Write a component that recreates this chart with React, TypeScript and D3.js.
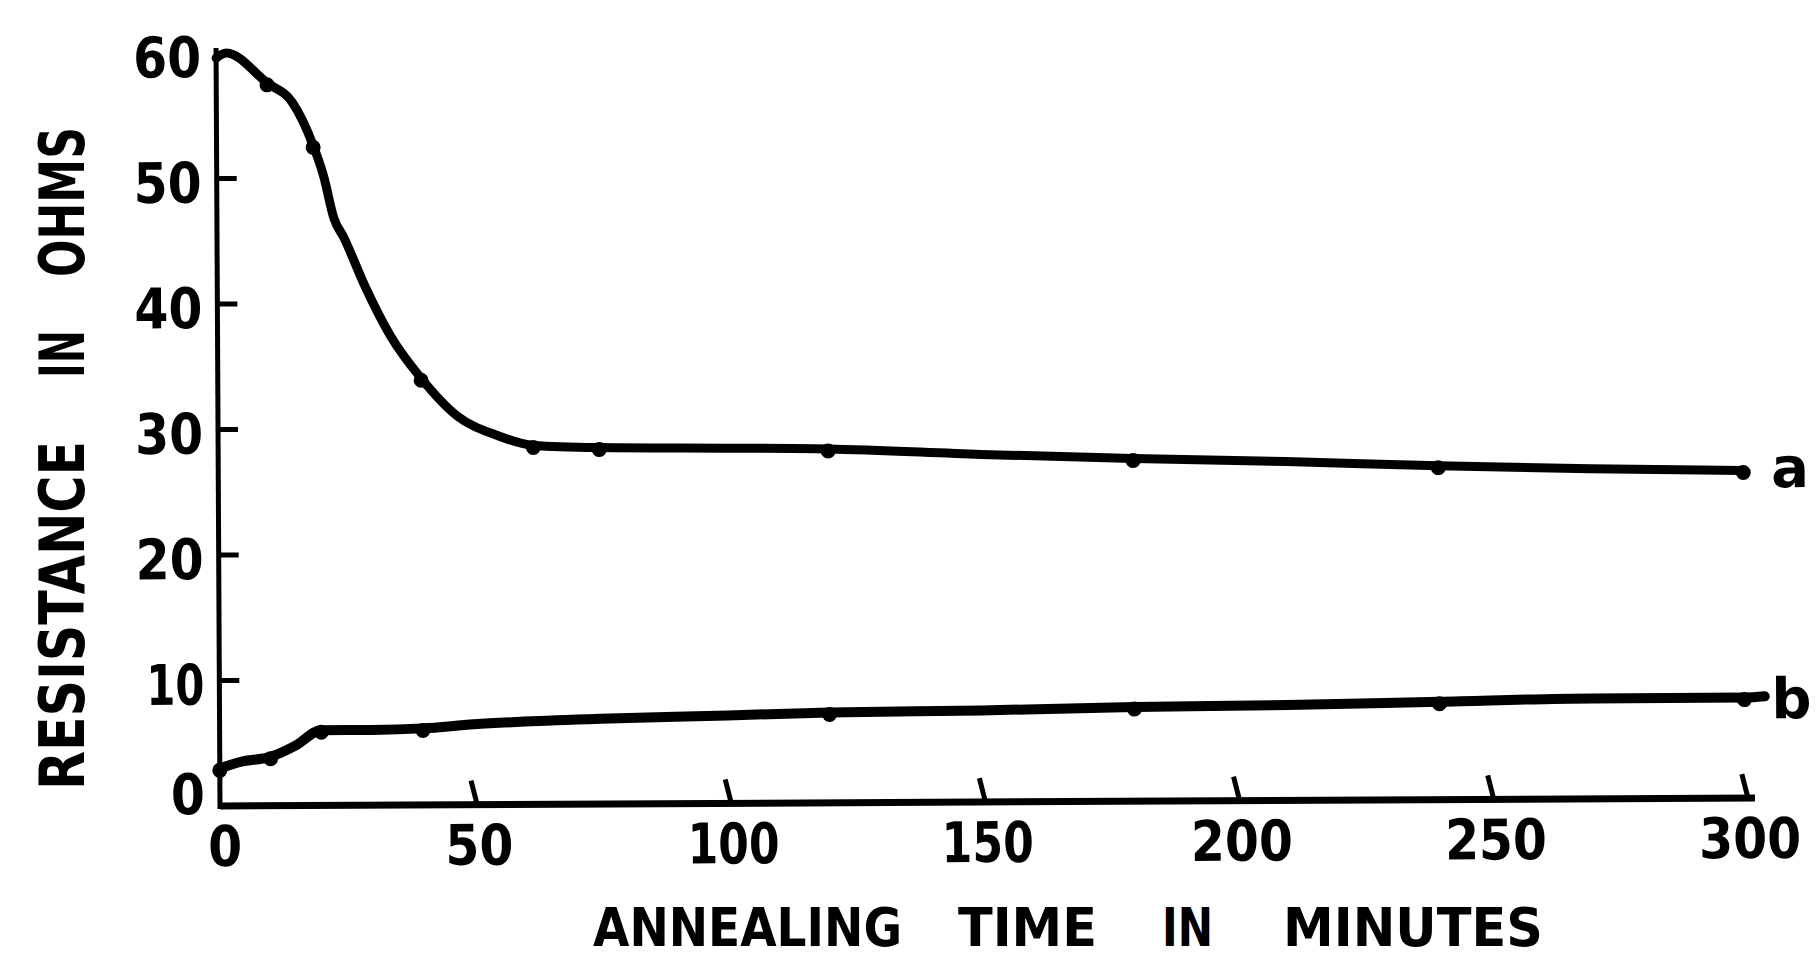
import React from 'react';
import * as d3 from 'd3';

// Curve a: resistance (ohms) vs annealing time (minutes)
const TIME_A = [0, 2, 10, 15, 19, 21, 23, 25, 29, 34, 40, 47, 55, 62, 75, 100, 120, 150, 180, 210, 240, 270, 300];
const RES_A = [59.6, 60.0, 57.6, 56.0, 52.6, 50.2, 46.8, 45.2, 41.4, 37.4, 34.0, 31.0, 29.4, 28.6, 28.4, 28.3, 28.2, 27.7, 27.3, 27.0, 26.6, 26.3, 26.1];
const DOTS_A = [10, 19, 40, 62, 75, 120, 180, 240, 300];

// Curve b
const TIME_B = [0, 4, 10, 15, 20, 30, 40, 50, 60, 75, 100, 120, 150, 180, 210, 240, 270, 300, 304];
const RES_B = [3.0, 3.5, 3.9, 4.8, 6.0, 6.0, 6.1, 6.4, 6.6, 6.8, 7.0, 7.2, 7.3, 7.5, 7.6, 7.8, 8.0, 8.0, 8.1];
const DOTS_B = [0, 10, 20, 40, 120, 180, 240, 300];

const X_TICKS = [0, 50, 100, 150, 200, 250, 300];
const Y_TICKS = [0, 10, 20, 30, 40, 50, 60];
const SERIES_LABELS = ['a', 'b'];

const X_TITLE_WORDS = ['ANNEALING', 'TIME', 'IN', 'MINUTES'];
const Y_TITLE_WORDS = ['RESISTANCE', 'IN', 'OHMS'];

const FONT = "'DejaVu Sans', sans-serif";

const labelWidth = (s: string) => s.split('').reduce((acc, c) => acc + (c === '1' ? 24 : 34), 0);

export default function App() {
  const x = d3.scaleLinear().domain([0, 300]).range([220, 1745]);
  const y = d3.scaleLinear().domain([0, 60]).range([806, 53]);

  const line = d3
    .line<[number, number]>()
    .x((d) => x(d[0]))
    .y((d) => y(d[1]))
    .curve(d3.curveMonotoneX);

  const ptsA: [number, number][] = TIME_A.map((t, i) => [t, RES_A[i]]);
  const ptsB: [number, number][] = TIME_B.map((t, i) => [t, RES_B[i]]);
  const dotsA = DOTS_A.map((t) => [t, RES_A[TIME_A.indexOf(t)]]);
  const dotsB = DOTS_B.map((t) => [t, RES_B[TIME_B.indexOf(t)]]);

  // word layouts (start, length) for the axis titles
  const xWords = [
    [593, 309],
    [958, 139],
    [1162, 51],
    [1283, 260],
  ];
  const yWords = [
    [790, 349],
    [378, 48],
    [277, 150],
  ];

  return (
    <svg
      width={1816}
      height={962}
      style={{ position: 'absolute', left: 0, top: 0, display: 'block', background: '#fff' }}
    >
      <g transform={`rotate(-0.3, 220, 806)`}>
        {/* axes */}
        <line x1={x(0)} x2={x(0)} y1={y(0) + 3} y2={y(60) - 5} stroke="#000" strokeWidth={5} />
        <line x1={x(0)} x2={x(300) + 10} y1={y(0)} y2={y(0)} stroke="#000" strokeWidth={7} />

        {/* y ticks */}
        {Y_TICKS.filter((v) => v > 0 && v < 60).map((v) => (
          <line key={'yt' + v} x1={x(0)} x2={x(0) + 20} y1={y(v)} y2={y(v)} stroke="#000" strokeWidth={5} />
        ))}
        {/* x ticks */}
        {X_TICKS.filter((t) => t > 0).map((t) => (
          <path
            key={'xt' + t}
            d={`M${x(t) + 3},${y(0)} L${x(t)},${y(0) - 12} L${x(t) - 3},${y(0) - 24}`}
            stroke="#000"
            strokeWidth={5}
            fill="none"
          />
        ))}

        {/* y tick labels */}
        {Y_TICKS.map((v) => (
          <text
            key={'yl' + v}
            x={x(0) - 15}
            y={Math.min(y(v) + 24, y(0) + 8)}
            textAnchor="end"
            textLength={labelWidth(String(v))}
            lengthAdjust="spacingAndGlyphs"
            fontFamily={FONT}
            fontWeight="bold"
            fontSize={56}
            fill="#000"
          >
            {v}
          </text>
        ))}
        {/* x tick labels */}
        {X_TICKS.map((t) => (
          <text
            key={'xl' + t}
            x={x(t) + 5}
            y={866}
            textAnchor="middle"
            textLength={labelWidth(String(t))}
            lengthAdjust="spacingAndGlyphs"
            fontFamily={FONT}
            fontWeight="bold"
            fontSize={56}
            fill="#000"
          >
            {t}
          </text>
        ))}

        {/* curves */}
        <path d={line(ptsA) || ''} fill="none" stroke="#000" strokeWidth={9} strokeLinejoin="round" strokeLinecap="round" />
        <path d={line(ptsB) || ''} fill="none" stroke="#000" strokeWidth={10} strokeLinejoin="round" strokeLinecap="round" />
        {dotsA.map((d, i) => (
          <circle key={'da' + i} cx={x(d[0])} cy={y(d[1]) + 2} r={7.5} fill="#000" />
        ))}
        {dotsB.map((d, i) => (
          <circle key={'db' + i} cx={x(d[0])} cy={y(d[1]) + 2} r={7.5} fill="#000" />
        ))}

        {/* series labels */}
        <text x={x(300) + 28} y={y(RES_A[RES_A.length - 1]) + 17} fontFamily={FONT} fontWeight="bold" fontSize={56} fill="#000">
          {SERIES_LABELS[0]}
        </text>
        <text x={x(300) + 27} y={y(RES_B[RES_B.length - 1]) + 22} fontFamily={FONT} fontWeight="bold" fontSize={56} fill="#000">
          {SERIES_LABELS[1]}
        </text>
      </g>

      {/* x title */}
      {X_TITLE_WORDS.map((w, i) => (
        <text
          key={'xw' + i}
          x={xWords[i][0]}
          y={946}
          textLength={xWords[i][1]}
          lengthAdjust="spacingAndGlyphs"
          fontFamily={FONT}
          fontWeight="bold"
          fontSize={54}
          fill="#000"
        >
          {w}
        </text>
      ))}
      {/* y title */}
      {Y_TITLE_WORDS.map((w, i) => (
        <text
          key={'yw' + i}
          transform={`translate(84, ${yWords[i][0]}) rotate(-90)`}
          textLength={yWords[i][1]}
          lengthAdjust="spacingAndGlyphs"
          fontFamily={FONT}
          fontWeight="bold"
          fontSize={62}
          fill="#000"
        >
          {w}
        </text>
      ))}
    </svg>
  );
}
